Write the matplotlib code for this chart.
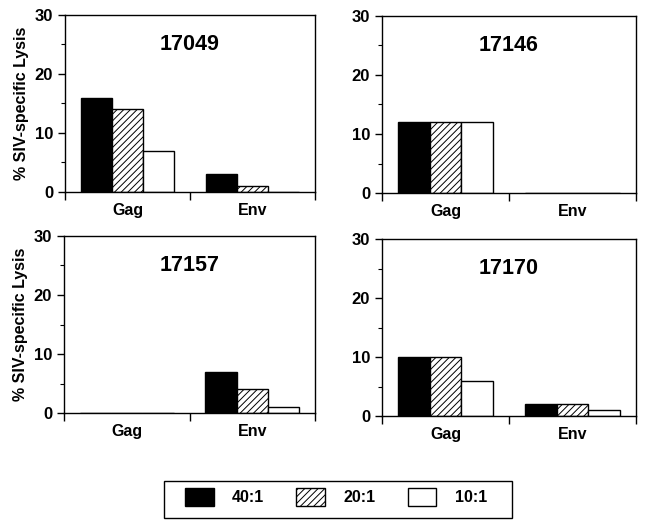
import matplotlib
matplotlib.use("Agg")
import matplotlib.pyplot as plt
import numpy as np
from matplotlib.patches import Patch, Rectangle

plt.rcParams["font.family"] = ["Liberation Sans", "DejaVu Sans"]
plt.rcParams["font.weight"] = "bold"
plt.rcParams["hatch.linewidth"] = 0.7

# ---------- data ----------
categories = ["Gag", "Env"]
ratios = ["40:1", "20:1", "10:1"]
animals = ["17049", "17146", "17157", "17170"]
lysis_17049 = [[16, 3], [14, 1], [7, 0]]
lysis_17146 = [[12, 0], [12, 0], [12, 0]]
lysis_17157 = [[0, 7], [0, 4], [0, 1]]
lysis_17170 = [[10, 2], [10, 2], [6, 1]]
all_lysis = [lysis_17049, lysis_17146, lysis_17157, lysis_17170]

styles = [dict(color="black", hatch=None),
          dict(color="white", hatch="/////"),
          dict(color="white", hatch=None)]

W, H = 645, 527
fig = plt.figure(figsize=(W / 100, H / 100), dpi=100)

# axes boxes in pixels: left, right, top, bottom
boxes = [(65, 315, 15, 192), (382, 636, 16, 193),
         (64, 315, 236, 413), (382, 636, 239, 416)]

x = np.arange(len(categories)) + 0.5
w = 0.25
for i, (name, data, (l, r, t, b)) in enumerate(zip(animals, all_lysis, boxes)):
    ax = fig.add_axes([l / W, 1 - b / H, (r - l) / W, (b - t) / H])
    for j, (vals, st) in enumerate(zip(data, styles)):
        ax.bar(x + (j - 1) * w, vals, w, color=st["color"], hatch=st["hatch"],
               edgecolor="black", linewidth=1.0)
    ax.set_xlim(0, 2)
    ax.set_ylim(0, 30)
    ax.set_yticks([0, 10, 20, 30])
    ax.set_yticks([5, 15, 25], minor=True)
    ax.set_xticks([0, 1, 2])
    ax.set_xticklabels([])
    ax.set_xticks(x, minor=True)
    ax.set_xticklabels(categories, minor=True, fontsize=11.5, fontweight="bold")
    ax.tick_params(axis="x", which="minor", length=0, pad=8)
    ax.tick_params(axis="x", which="major", length=6, width=1, direction="out")
    ax.tick_params(axis="y", which="major", length=5, width=1, labelsize=12)
    ax.tick_params(axis="y", which="minor", length=3, width=0.8)
    for lab in ax.get_yticklabels():
        lab.set_fontweight("bold")
    for s in ax.spines.values():
        s.set_linewidth(1.0)
    ax.text(1, 25, name, ha="center", va="center", fontsize=15.5, fontweight="bold")
    if i % 2 == 0:
        ax.set_ylabel("% SIV-specific Lysis", fontsize=11.5, fontweight="bold",
                      labelpad=4)

# legend box drawn separately so the horizontal padding can be wider
fig.patches.append(Rectangle((164 / W, 1 - 518 / H), 348 / W, 37 / H,
                             transform=fig.transFigure, facecolor="white",
                             edgecolor="black", linewidth=1.0))
handles = [Patch(facecolor=st["color"], edgecolor="black", hatch=st["hatch"],
                 linewidth=1.0) for st in styles]
leg = fig.legend(handles, ratios, loc="center", ncol=3,
                 bbox_to_anchor=(336 / W, 1 - 497 / H),
                 frameon=False, fontsize=11.5, handlelength=1.8,
                 handleheight=1.4, handletextpad=1.15, columnspacing=2.0)
for t in leg.get_texts():
    t.set_fontweight("bold")

fig.savefig("out.png", dpi=100, facecolor="white")
